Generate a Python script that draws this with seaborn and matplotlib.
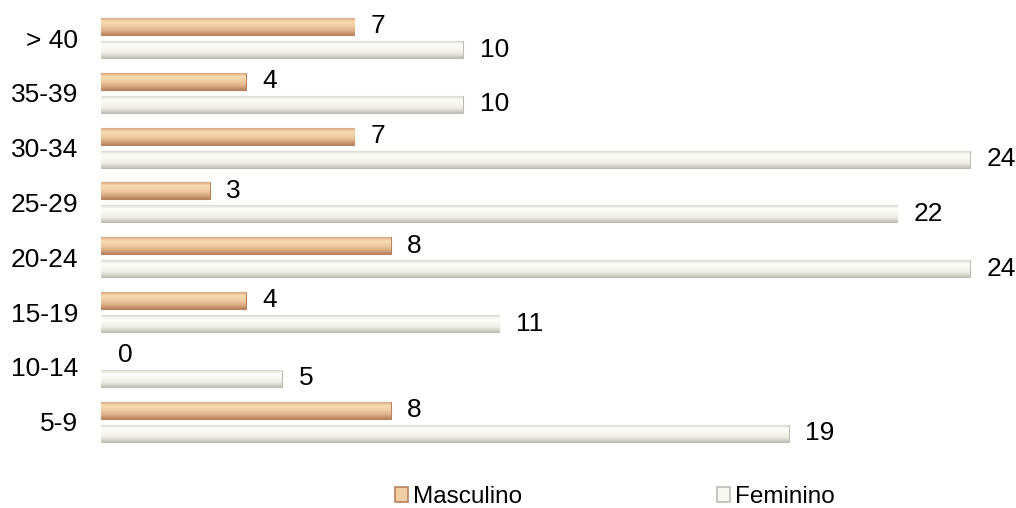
import matplotlib
matplotlib.use("Agg")
import matplotlib.pyplot as plt
from matplotlib.colors import LinearSegmentedColormap
import numpy as np
import seaborn as sns
import pandas as pd

categories = ["> 40", "35-39", "30-34", "25-29", "20-24", "15-19", "10-14", "5-9"]
masculino = [7, 4, 7, 3, 8, 4, 0, 8]
feminino = [10, 10, 24, 22, 24, 11, 5, 19]
series = ["Masculino", "Feminino"]

df = pd.DataFrame({
    "faixa": categories * 2,
    "valor": masculino + feminino,
    "sexo": [series[0]] * len(categories) + [series[1]] * len(categories),
})

sns.set_theme(style="white")
plt.rcParams["font.family"] = ["Liberation Sans", "DejaVu Sans"]

W, H = 1016, 508
fig = plt.figure(figsize=(W / 100, H / 100), dpi=100)
ax_left, ax_right, ax_top, ax_bottom = 101, 1000, 10.6, 449
ax = fig.add_axes([ax_left / W, 1 - ax_bottom / H, (ax_right - ax_left) / W, (ax_bottom - ax_top) / H])

palette = {"Masculino": "#EBC69B", "Feminino": "#F5F4EF"}
edges = {"Masculino": "#B8845F", "Feminino": "#BDBDB6"}
# vertical shading of the bevelled bars, top to bottom
shades = {
    "Masculino": ["#D09A72", "#F8DBB2", "#F1CEA3", "#DEB189", "#B8835E"],
    "Feminino": ["#D2D2CB", "#FCFCF8", "#F7F7F2", "#ECECE5", "#C2C2BA"],
}

sns.barplot(data=df, y="faixa", x="valor", hue="sexo", order=categories,
            hue_order=series, palette=palette, saturation=1, orient="h",
            width=0.84, gap=0.26, legend=False, ax=ax)

xmax = (ax_right - ax_left) / 36.2
grad = np.linspace(0, 1, 64).reshape(-1, 1)
for container, name in zip(ax.containers, series):
    cmap = LinearSegmentedColormap.from_list(name, shades[name])
    for bar, v in zip(container, container.datavalues):
        bar.set_edgecolor(edges[name])
        bar.set_linewidth(0.8 if v > 0 else 0)
        if v > 0:
            y0 = bar.get_y()
            y1 = y0 + bar.get_height()
            im = ax.imshow(grad, cmap=cmap, aspect="auto", origin="upper",
                           extent=(bar.get_x(), bar.get_x() + bar.get_width(), y1, y0),
                           zorder=bar.get_zorder() + 0.1, interpolation="bilinear")
            im.set_clip_path(bar)
    ax.bar_label(container, labels=[f"{int(v)}" for v in container.datavalues],
                 padding=12, fontsize=19, color="black")

ax.set_xlim(0, xmax)
ax.set_ylim(len(categories) - 0.5, -0.5)
ax.set_aspect("auto")
ax.set_xlabel("")
ax.set_ylabel("")
ax.set_xticks([])
ax.tick_params(axis="y", length=0, pad=16.5)
for lab in ax.get_yticklabels():
    lab.set_fontsize(19)
    lab.set_color("black")
for s in ax.spines.values():
    s.set_visible(False)

handles = [plt.Rectangle((0, 0), 1, 1, facecolor=shades[n][2], edgecolor=edges[n], linewidth=1.2)
           for n in series]
fig.legend(handles, series, loc="center", bbox_to_anchor=(615 / W, 1 - 497 / H), ncol=2,
           frameon=False, fontsize=17.5, labelcolor="black", handlelength=0.54,
           handleheight=0.54, handletextpad=0.2, columnspacing=8.0,
           borderpad=0, borderaxespad=0)

fig.savefig("out.png", dpi=100)
